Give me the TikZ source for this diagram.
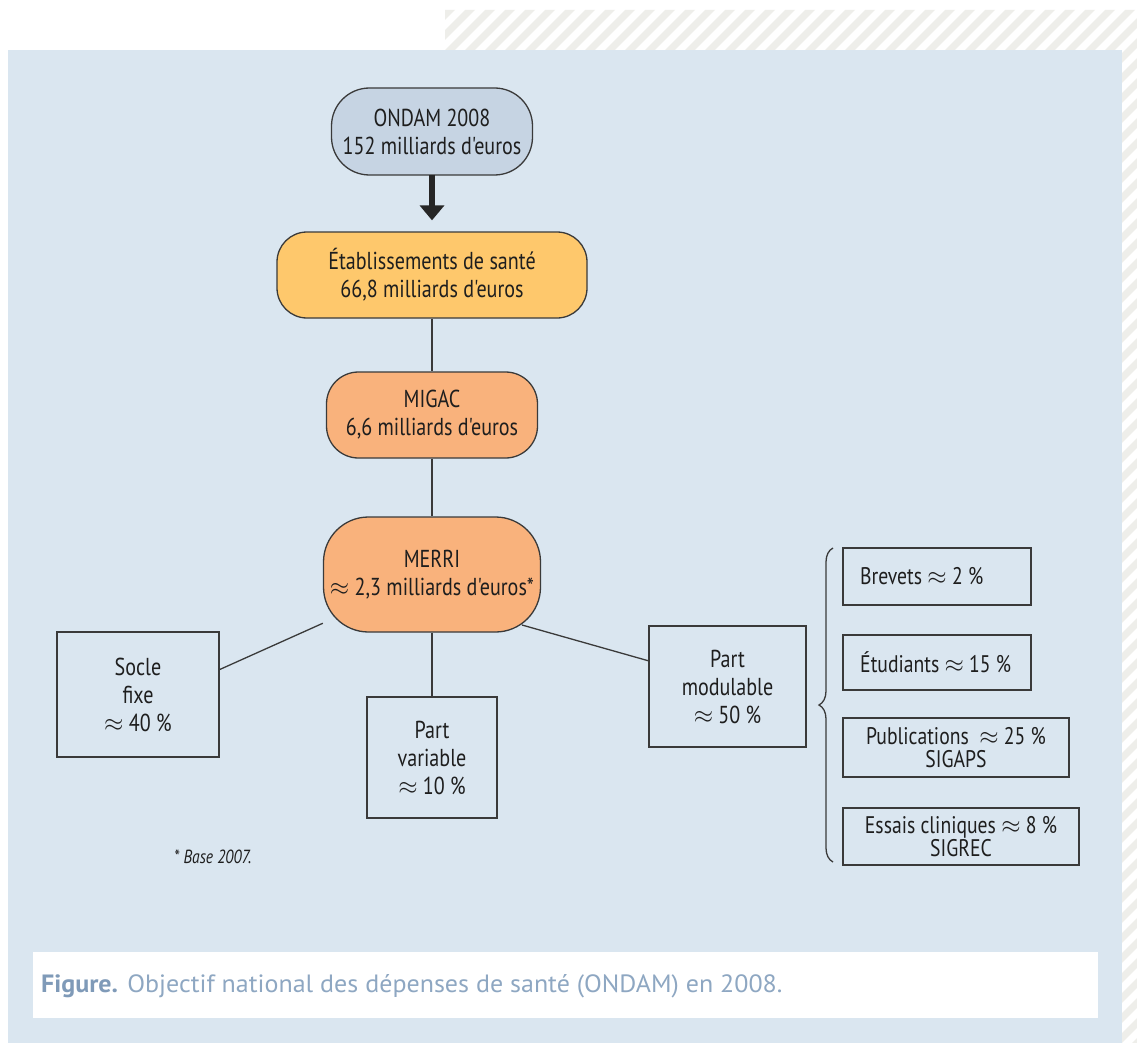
\documentclass[tikz,border=0pt]{standalone}
\usepackage{fontspec}
\setmainfont{PT Sans}
\newfontfamily\cond[FakeStretch=0.82]{PT Sans}
\newfontfamily\capfont[FakeStretch=1.04]{PT Sans}
\usetikzlibrary{decorations.pathreplacing,arrows.meta}
\definecolor{panel}{HTML}{DAE6F0}
\definecolor{hatchc}{HTML}{EEEEEA}
\definecolor{ondamc}{HTML}{C6D4E3}
\definecolor{etabc}{HTML}{FEC86C}
\definecolor{orangec}{HTML}{F9B27C}
\definecolor{linec}{HTML}{3A3A3A}
\definecolor{txtc}{HTML}{1E1E1E}
\definecolor{capc}{HTML}{8EA7C2}
\definecolor{capb}{HTML}{7F9AB8}
\pgfdeclarelayer{back}
\pgfdeclarelayer{bg}
\pgfsetlayers{back,bg,main}
\tikzset{
  base/.style={draw=linec, line width=1.3pt, text=txtc, inner sep=0pt, align=center,
    font=\cond\fontsize{24.5}{28}\selectfont},
  small/.style={base, font=\cond\fontsize{24}{23}\selectfont},
  conn/.style={draw=linec, line width=1.3pt},
  bigarrow/.style={draw=black!85, line width=6.5pt, -{Triangle[width=24pt,length=15pt]}},
  hatchl/.style={hatchc, line width=7pt},
}
\begin{document}
\begin{tikzpicture}[x=1pt,y=-1pt]
\useasboundingbox (0,0) rectangle (1137,1043);
\begin{pgfonlayer}{back}
\fill[white] (0,0) rectangle (1137,1043);
% hatched frame
\begin{scope}
  \clip (445,10) -- (1137,10) -- (1137,1043) -- (1122,1043) -- (1122,50) -- (445,50) -- cycle;
  \foreach \a in {-1100,-1080,...,1160} \draw[hatchl] (\a,1060) -- ++(1080,-1080);
\end{scope}
% panel
\fill[panel] (8,50) rectangle (1122,1043);
% caption
\fill[white] (33,952) rectangle (1098,1018);
\end{pgfonlayer}
\node[anchor=west, inner sep=0pt, text=capc, font=\capfont\fontsize{25}{28}\selectfont] (cap) at (41,986)
  {{\bfseries\color{capb}Figure.} Objectif national des dépenses de santé (ONDAM) en 2008.};

% main chain
\node[base, fill=ondamc, rounded corners=38pt, minimum width=201pt, minimum height=87pt] (ondam) at (432,131.5)
  {ONDAM 2008\\152 milliards d'euros};
\node[base, fill=etabc, rounded corners=30pt, minimum width=310pt, minimum height=86pt] (etab) at (432,275)
  {Établissements de santé\\66,8 milliards d'euros};
\node[base, fill=orangec, rounded corners=32pt, minimum width=211pt, minimum height=86pt] (migac) at (432,415)
  {MIGAC\\6,6 milliards d'euros};
\node[base, fill=orangec, rounded corners=45pt, minimum width=217pt, minimum height=115pt] (merri) at (432,574.5)
  {MERRI\\$\approx$ 2,3 milliards d'euros*};

% parts
\node[base, minimum width=162pt, minimum height=125pt] (socle) at (138,694.5)
  {Socle\\fixe\\$\approx$ 40 \%};
\node[base, minimum width=130pt, minimum height=121pt] (variable) at (432,757.5)
  {Part\\variable\\$\approx$ 10 \%};
\node[base, minimum width=157pt, minimum height=121pt] (modulable) at (727.5,686.5)
  {Part\\modulable\\$\approx$ 50 \%};

% sub parts
\node[small, minimum width=188pt, minimum height=57pt] (brevets) at (937,576.5) {};
\node[anchor=west, inner sep=0pt, text=txtc, font=\cond\fontsize{24}{23}\selectfont] (brevetst) at (860,576.5) {Brevets $\approx$ 2 \%};
\node[small, minimum width=188pt, minimum height=55pt] (etud) at (937,662.5) {};
\node[anchor=west, inner sep=0pt, text=txtc, font=\cond\fontsize{24}{23}\selectfont] (etudt) at (860,662.5) {Étudiants $\approx$ 15 \%};
\node[small, minimum width=226pt, minimum height=59pt] (publi) at (956,747.5)
  {Publications \ $\approx$ 25 \%\\SIGAPS};
\node[small, minimum width=236pt, minimum height=57pt] (essais) at (961,836.5)
  {Essais cliniques $\approx$ 8 \%\\SIGREC};

% brace
\draw[linec, line width=1.3pt, decorate, decoration={brace, amplitude=14pt}]
  (833,862) -- (833,548);

% footnote
\node[anchor=west, inner sep=0pt, text=txtc, font=\cond\fontsize{19}{21}\selectfont\itshape] (foot) at (174,857) {* Base 2007.};

% connectors
\begin{pgfonlayer}{bg}
  \draw[conn] (etab) -- (migac);
  \draw[conn] (migac) -- (merri);
  \draw[conn] (merri) -- (variable);
  \draw[conn] (merri) -- (socle.17);
  \coordinate (mR) at (522,625);
  \draw[conn] (mR) -- (modulable.162);
\end{pgfonlayer}
\draw[bigarrow] ([yshift=1pt]ondam.south) -- ([yshift=11pt]etab.north);
\end{tikzpicture}
\end{document}
